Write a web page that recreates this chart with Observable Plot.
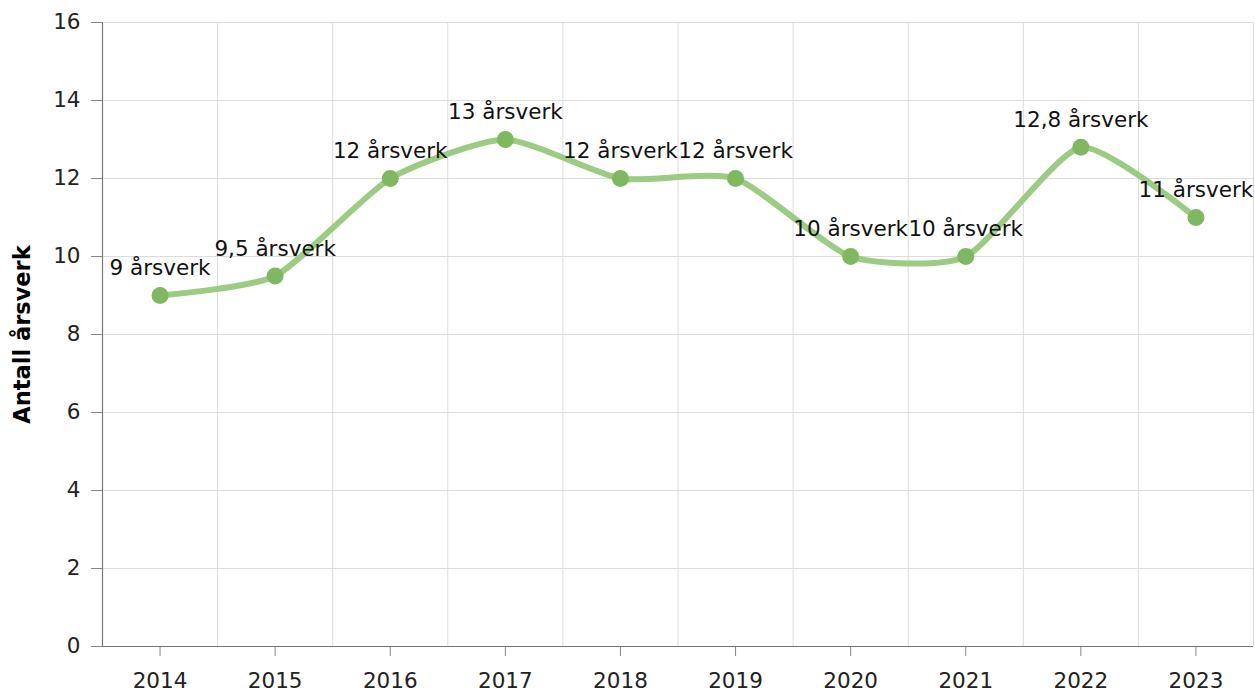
<!DOCTYPE html>
<html><head><meta charset="utf-8">
<script src="https://cdn.jsdelivr.net/npm/d3@7"></script>
<script src="https://cdn.jsdelivr.net/npm/@observablehq/plot@0.6"></script>
<style>body{margin:0;background:#fff;font-family:"DejaVu Sans",Verdana,sans-serif}</style>
</head><body><div id="chart"></div>
<script>
const years = [2014, 2015, 2016, 2017, 2018, 2019, 2020, 2021, 2022, 2023];
const values = [9, 9.5, 12, 13, 12, 12, 10, 10, 12.8, 11];
const labels = ["9 årsverk","9,5 årsverk","12 årsverk","13 årsverk","12 årsverk","12 årsverk","10 årsverk","10 årsverk","12,8 årsverk","11 årsverk"];
const yTicks = [0, 2, 4, 6, 8, 10, 12, 14, 16];
const yTitle = "Antall årsverk";

const data = years.map((y, i) => ({year: y, value: values[i], label: labels[i]}));
const bounds = years.slice(0, -1).map(y => y + 0.5);

const fs = 21.5;
const chart = Plot.plot({
  width: 1255, height: 693,
  marginLeft: 102, marginRight: 2, marginTop: 22, marginBottom: 47,
  style: {fontFamily: '"DejaVu Sans", Verdana, sans-serif', fontSize: fs + "px", color: "#222", background: "#fff"},
  x: {domain: [years[0] - 0.5, years[years.length - 1] + 0.5]},
  y: {domain: [0, 16]},
  marks: [
    Plot.gridY(yTicks, {stroke: "#ddd", strokeOpacity: 1}),
    Plot.ruleX(bounds, {stroke: "#ddd"}),
    Plot.ruleX([years[years.length-1] + 0.5], {stroke: "#ddd"}),
    Plot.axisY(yTicks, {tickSize: 11, tickPadding: 11, stroke: "#888", label: null, fontSize: fs}),
    Plot.axisX(years, {tickSize: 10, tickPadding: 16, stroke: "#888", tickFormat: d => String(d), label: null, fontSize: fs}),
    Plot.ruleX([years[0] - 0.5], {stroke: "#777", strokeWidth: 1.2}),
    Plot.ruleY([0], {stroke: "#777", strokeWidth: 1.2}),
    Plot.text([yTitle], {frameAnchor: "left", textAnchor: "middle", rotate: -90, dx: -80, fontWeight: "bold", fontSize: 22.5, fill: "#000"}),
    Plot.line(data, {x: "year", y: "value", curve: "cardinal", tension: 0.4, stroke: "#9ccb84", strokeWidth: 6}),
    Plot.dot(data, {x: "year", y: "value", r: 8.5, fill: "#80b862"}),
    Plot.text(data, {x: "year", y: "value", text: "label", dy: -27, fontSize: fs, fill: "#111"})
  ]
});
document.getElementById("chart").append(chart);
</script></body></html>
